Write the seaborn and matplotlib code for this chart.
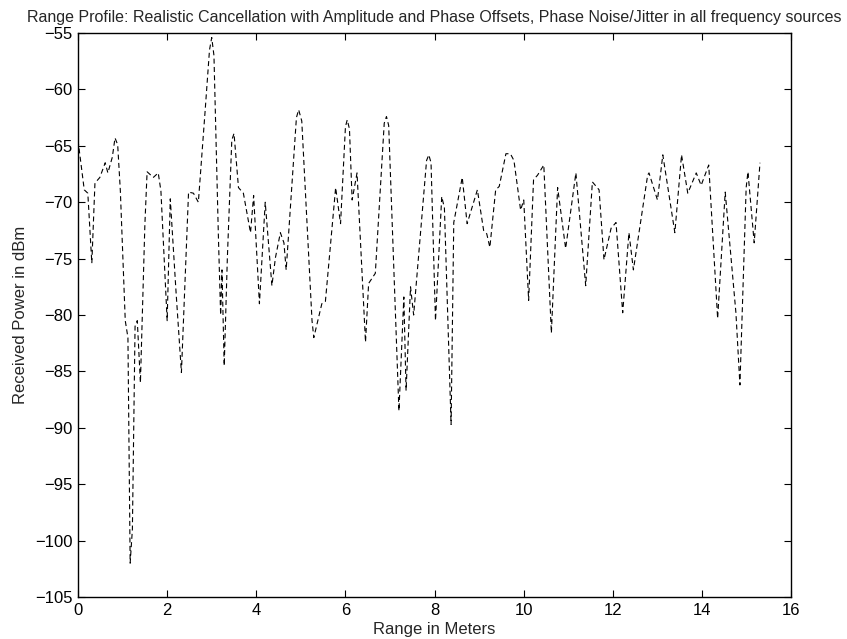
import numpy as np
import pandas as pd
import matplotlib
matplotlib.use("Agg")
import matplotlib.pyplot as plt
import seaborn as sns

# range profile (meters, dBm)
range_m = [
    0.00, 0.14, 0.22, 0.31, 0.38, 0.49, 0.61, 0.67, 0.77, 0.83, 0.89, 0.95,
    1.06, 1.12, 1.17, 1.22, 1.28, 1.33, 1.40, 1.50, 1.55, 1.69, 1.80,
    1.86, 2.00, 2.07, 2.20, 2.32, 2.48, 2.59, 2.70, 2.85, 2.95, 3.00, 3.05,
    3.15, 3.20, 3.23, 3.28, 3.35, 3.45, 3.50, 3.60, 3.71, 3.87, 3.94, 4.07,
    4.20, 4.35, 4.43, 4.54, 4.62, 4.67, 4.72, 4.90, 4.95, 5.02, 5.25, 5.29,
    5.47, 5.55, 5.78, 5.89, 6.00, 6.04, 6.09, 6.15, 6.26, 6.45, 6.52, 6.67,
    6.87, 6.92, 6.97, 7.05, 7.20, 7.31, 7.36, 7.46, 7.53, 7.82, 7.87, 7.92,
    8.02, 8.16, 8.22, 8.37, 8.43, 8.62, 8.73, 8.96, 9.10, 9.17, 9.24, 9.37,
    9.45, 9.60, 9.70, 9.78, 9.93, 10.00, 10.11, 10.22, 10.31, 10.45, 10.62,
    10.76, 10.94, 11.17, 11.39, 11.54, 11.69, 11.80, 11.96, 12.07, 12.22,
    12.36, 12.46, 12.78, 12.81, 13.00, 13.12, 13.39, 13.54, 13.68, 13.87,
    13.98, 14.15, 14.35, 14.52, 14.76, 14.85, 14.99, 15.03, 15.17, 15.30,
]
power_dbm = [
    -64.5, -68.9, -69.2, -75.4, -68.3, -67.8, -66.5, -67.4, -66.0, -64.3, -64.9, -69.0,
    -80.5, -82.0, -102.0, -99.0, -81.0, -80.5, -86.0, -72.0, -67.3, -67.8, -67.4,
    -69.0, -80.5, -69.7, -78.0, -85.1, -69.1, -69.2, -70.0, -62.0, -56.5, -55.4, -57.0,
    -73.1, -80.0, -76.0, -84.5, -75.0, -64.5, -63.9, -68.7, -69.2, -72.7, -69.4, -79.0,
    -70.0, -77.4, -74.9, -72.7, -73.6, -76.0, -73.1, -62.5, -61.8, -62.8, -80.5, -82.0,
    -79.0, -78.8, -68.7, -71.9, -63.3, -62.7, -63.5, -69.8, -67.4, -82.4, -77.2, -76.3,
    -63.0, -62.4, -63.2, -72.0, -88.5, -78.4, -86.7, -77.5, -80.0, -66.3, -65.8, -66.5,
    -80.5, -69.5, -70.5, -89.7, -71.8, -67.8, -71.9, -68.9, -72.5, -72.8, -74.0, -68.9,
    -68.6, -65.7, -65.7, -66.3, -70.7, -69.8, -78.7, -68.0, -67.6, -66.7, -81.6,
    -68.7, -74.1, -67.4, -77.4, -68.2, -68.9, -75.1, -72.3, -71.8, -79.8,
    -72.7, -76.0, -67.6, -67.4, -69.8, -65.8, -72.7, -65.8, -69.2, -67.4,
    -68.5, -66.7, -80.3, -69.1, -79.8, -86.2, -68.7, -67.3, -73.6, -66.5,
]

x_ticks = [0, 2, 4, 6, 8, 10, 12, 14, 16]
y_ticks = [-105, -100, -95, -90, -85, -80, -75, -70, -65, -60, -55]

df = pd.DataFrame({"range": range_m, "power": power_dbm})

sns.set_style("ticks")
plt.rcParams["font.family"] = ["Liberation Sans", "DejaVu Sans"]
plt.rcParams["axes.unicode_minus"] = True

fig = plt.figure(figsize=(8.47, 6.39), dpi=100)
ax = fig.add_axes([0.0921, 0.0657, 0.842, 0.8826])

sns.lineplot(data=df, x="range", y="power", ax=ax, sort=False, estimator=None,
             color="black", linewidth=0.8, dashes=False)
ax.lines[0].set_dashes([4.5, 3.0])

ax.set_xlim(0, 16)
ax.set_ylim(-105, -55)
ax.set_xticks(x_ticks)
ax.set_yticks(y_ticks)
ax.tick_params(direction="in", length=5, width=0.8, top=True, right=True,
               labelsize=12, colors="black", pad=4)
for s in ax.spines.values():
    s.set_visible(True)
    s.set_linewidth(1.0)
    s.set_color("black")

ax.set_xlabel("Range in Meters", fontsize=12, labelpad=3.5)
ax.set_ylabel("Received Power in dBm", fontsize=12, labelpad=5)
ax.set_title("Range Profile: Realistic Cancellation with Amplitude and Phase Offsets, "
             "Phase Noise/Jitter in all frequency sources", fontsize=11.5, pad=8)

fig.savefig("out.png", dpi=100)
